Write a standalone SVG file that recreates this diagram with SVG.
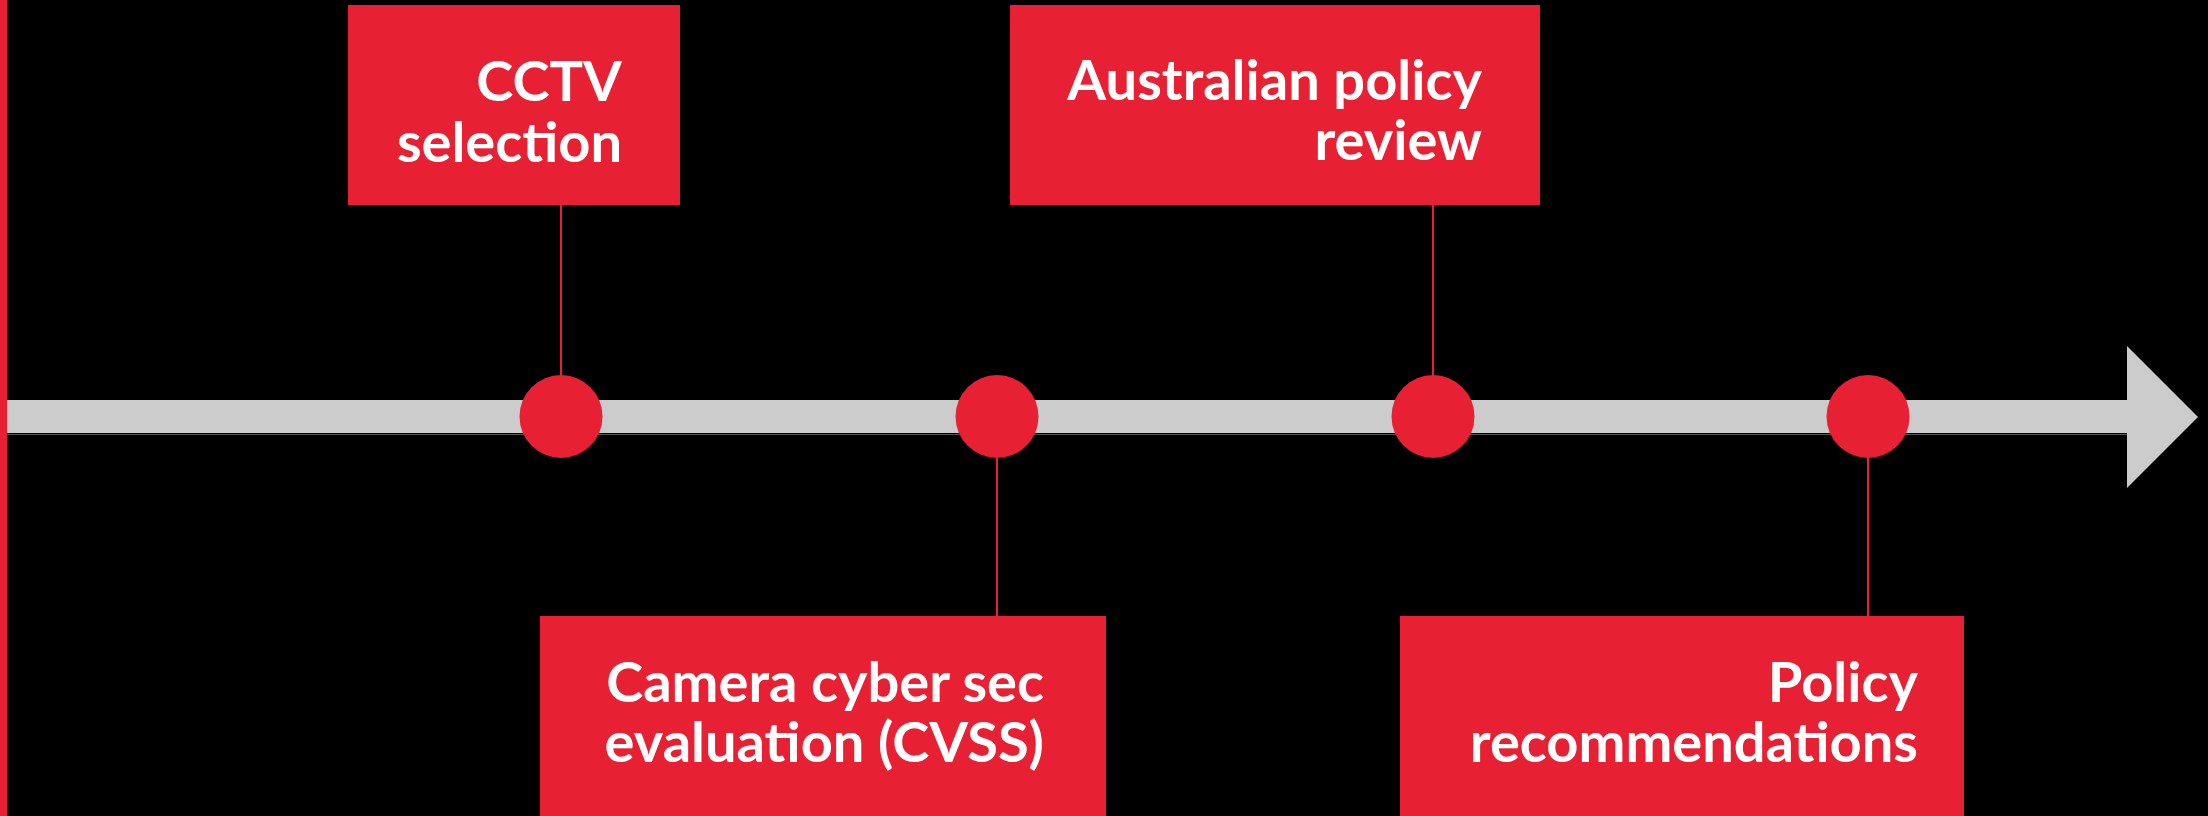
<svg xmlns="http://www.w3.org/2000/svg" width="2208" height="816" viewBox="0 0 2208 816">
  <style>
    .box { fill: #e82033; }
    .dot { fill: #e82033; }
    .stem { stroke: #e82033; stroke-width: 2; fill: none; }
    .label { font-family: Lato, "Open Sans", "Liberation Sans", sans-serif; font-weight: 700; font-size: 56px; fill: #ffffff; text-anchor: end; }
  </style>

  <!-- background -->
  <rect x="0" y="0" width="2208" height="816" fill="#000000"/>
  <!-- left edge rule -->
  <rect x="0" y="0" width="7" height="816" fill="#e82033"/>

  <!-- timeline arrow -->
  <g id="timeline">
    <rect x="7" y="434" width="2120" height="1" fill="#555555"/>
    <polygon points="7,400 2127,400 2127,346 2198,417 2127,488 2127,433 7,433" fill="#cccccc"/>
  </g>

  <!-- connectors from milestones to labels -->
  <g id="connectors">
    <line class="stem" x1="561" y1="205" x2="561" y2="380"/>
    <line class="stem" x1="997" y1="455" x2="997" y2="616"/>
    <line class="stem" x1="1433" y1="205" x2="1433" y2="380"/>
    <line class="stem" x1="1868" y1="455" x2="1868" y2="616"/>
  </g>

  <!-- milestone markers -->
  <g id="markers">
    <circle class="dot" cx="561" cy="416.5" r="41.5"/>
    <circle class="dot" cx="997" cy="416.5" r="41.5"/>
    <circle class="dot" cx="1433" cy="416.5" r="41.5"/>
    <circle class="dot" cx="1868" cy="416.5" r="41.5"/>
  </g>

  <g id="cctv-selection">
    <rect class="box" x="348" y="5" width="332" height="200"/>
    <text class="label"><tspan x="622" y="101">CCTV</tspan><tspan x="622" y="162">selection</tspan></text>
  </g>

  <g id="camera-evaluation">
    <rect class="box" x="540" y="616" width="566" height="200"/>
    <text class="label"><tspan x="1044" y="702">Camera cyber sec</tspan><tspan x="1044" y="762">evaluation (CVSS)</tspan></text>
  </g>

  <g id="policy-review">
    <rect class="box" x="1010" y="5" width="530" height="200"/>
    <text class="label"><tspan x="1482" y="100">Australian policy</tspan><tspan x="1482" y="160">review</tspan></text>
  </g>

  <g id="policy-recommendations">
    <rect class="box" x="1400" y="616" width="564" height="200"/>
    <text class="label"><tspan x="1918" y="702">Policy</tspan><tspan x="1918" y="762">recommendations</tspan></text>
  </g>
</svg>
